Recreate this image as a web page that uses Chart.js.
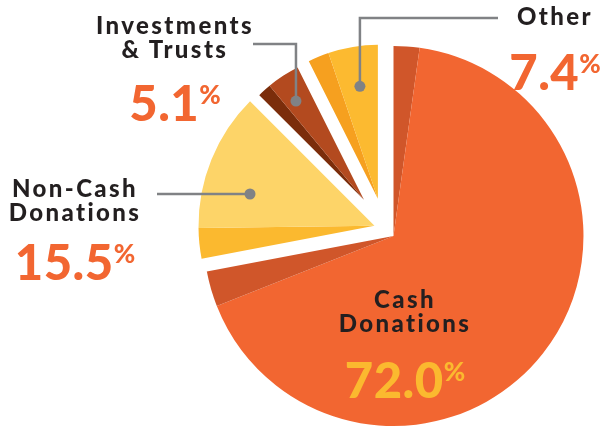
<!DOCTYPE html>
<html>
<head>
<meta charset="utf-8">
<script src="https://cdn.jsdelivr.net/npm/chart.js@4"></script>
<style>
  body { margin: 0; background: #fff; }
  #wrap { position: relative; width: 606px; height: 427px; overflow: hidden; }
  #wrap canvas { position: absolute; left: 0; top: 0; }
  .lbl { position: absolute; width: 240px; text-align: center; font-family: Lato, sans-serif; font-weight: 900; }
  .name { font-size: 24px; line-height: 24px; color: #231F20; letter-spacing: 2.4px; }
  .pct { font-size: 49px; line-height: 48px; color: #F26631; letter-spacing: 0.5px; }
  .pct span { font-size: 26px; vertical-align: 17px; letter-spacing: 0; }
</style>
</head>
<body>
<div id="wrap"><canvas id="pie"></canvas></div>
<script>
const categories = ['Cash Donations', 'Non-Cash Donations', 'Investments & Trusts', 'Other'];
const shares = [72.0, 15.5, 5.1, 7.4];
// each share split into the shaded faces seen in the picture
const shadeParts = [[2.2, 66.8, 3.0], [2.8, 12.7], [1.5, 3.6], [2.2, 5.2]];
const labelLines = [['Cash', 'Donations'], ['Non-Cash', 'Donations'], ['Investments', '& Trusts'], ['Other']];

// styling
const partColors = [['#D0562A', '#F26631', '#D0562A'], ['#FBB92F', '#FDD468'], ['#7B2D0B', '#B34A1F'], ['#F6A01F', '#FCBA30']];
const radii = [190, 176, 148, 154];
const explode = [11, 11, 36, 31];
const labelPos = [
    { cx: 405, nameTop: 287, pctTop: 347, pctColor: '#FBB92F' },
    { cx: 75, nameTop: 176, pctTop: 229 },
    { cx: 175, nameTop: 13, pctTop: 70 },
    { cx: 555, nameTop: 4, pctTop: 39 }
];
// leader: where the dot sits (fraction of slice angle, fraction of radius) and where the line goes
const leaders = [null,
    { at: 0.45, r: 0.73, path: [['x', 157]] },
    { at: 0.57, r: 0.81, path: [['y', 44], ['x', 253]] },
    { at: 0.66, r: 0.74, path: [['y', 18], ['x', 498]] }
];

const values = [], colors = [], groupOf = [], labels = [];
shadeParts.forEach((parts, g) => parts.forEach((v, j) => {
    values.push(v);
    colors.push(partColors[g][j]);
    groupOf.push(g);
    labels.push(categories[g]);
}));

function groupArcs(meta, g) {
    return meta.data.filter((a, k) => groupOf[k] === g);
}

const explodePlugin = {
    id: 'explode',
    afterDatasetUpdate(chart, args) {
        const meta = args.meta;
        categories.forEach((c, g) => {
            const arcs = groupArcs(meta, g);
            const mid = (arcs[0].startAngle + arcs[arcs.length - 1].endAngle) / 2;
            arcs.forEach(a => {
                a.outerRadius = radii[g];
                a.x += Math.cos(mid) * explode[g];
                a.y += Math.sin(mid) * explode[g];
            });
        });
    },
    afterDatasetsDraw(chart) {
        const ctx = chart.ctx;
        const meta = chart.getDatasetMeta(0);
        ctx.save();
        ctx.strokeStyle = '#808285';
        ctx.fillStyle = '#808285';
        ctx.lineWidth = 2.5;
        leaders.forEach((ld, g) => {
            if (!ld) return;
            const arcs = groupArcs(meta, g);
            const s = arcs[0].startAngle, e = arcs[arcs.length - 1].endAngle;
            const ang = s + (e - s) * ld.at;
            const px = arcs[0].x + Math.cos(ang) * radii[g] * ld.r;
            const py = arcs[0].y + Math.sin(ang) * radii[g] * ld.r;
            ctx.beginPath();
            ctx.moveTo(px, py);
            let x = px, y = py;
            ld.path.forEach(([axis, v]) => {
                if (axis === 'x') x = v; else y = v;
                ctx.lineTo(x, y);
            });
            ctx.stroke();
            ctx.beginPath();
            ctx.arc(px, py, 5.5, 0, Math.PI * 2);
            ctx.fill();
        });
        ctx.restore();
    }
};

new Chart(document.getElementById('pie'), {
    type: 'pie',
    data: {
        labels,
        datasets: [{ data: values, backgroundColor: colors, borderWidth: 0 }]
    },
    options: {
        responsive: true,
        maintainAspectRatio: false,
        animation: false,
        events: [],
        radius: 190,
        layout: { padding: { left: 164, top: 31, right: 0, bottom: 0 } },
        plugins: { legend: { display: false }, tooltip: { enabled: false } }
    },
    plugins: [explodePlugin]
});

// text labels
const wrap = document.getElementById('wrap');
categories.forEach((c, g) => {
    const p = labelPos[g];
    const name = document.createElement('div');
    name.className = 'lbl name';
    name.style.left = (p.cx - 120) + 'px';
    name.style.top = p.nameTop + 'px';
    name.innerHTML = labelLines[g].map(t => t.replace('&', '&amp;')).join('<br>');
    wrap.appendChild(name);
    const pct = document.createElement('div');
    pct.className = 'lbl pct';
    pct.style.left = (p.cx - 120) + 'px';
    pct.style.top = p.pctTop + 'px';
    if (p.pctColor) pct.style.color = p.pctColor;
    pct.innerHTML = shares[g].toFixed(1) + '<span>%</span>';
    wrap.appendChild(pct);
});
</script>
</body>
</html>
